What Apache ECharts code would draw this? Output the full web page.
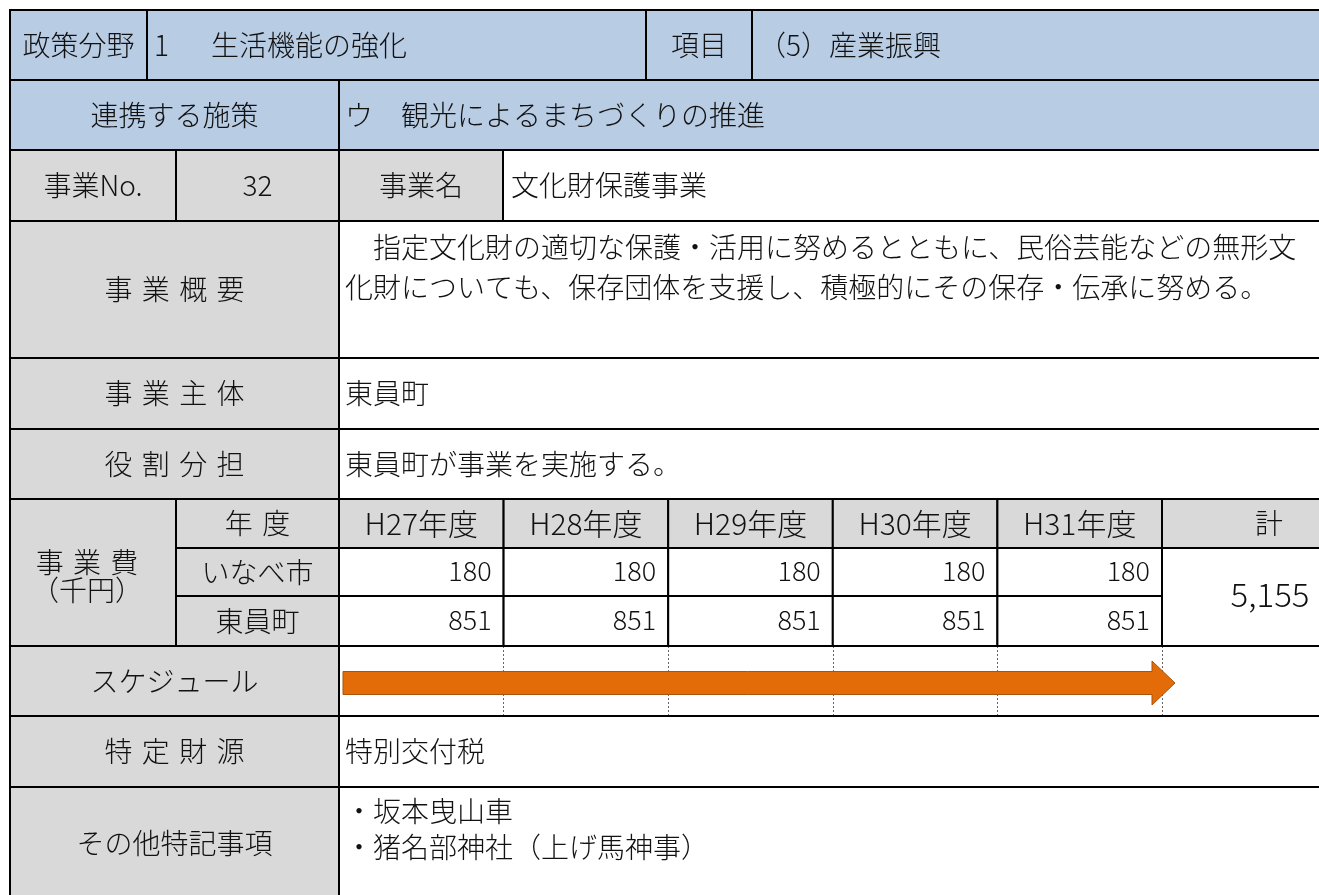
<!DOCTYPE html>
<html><head><meta charset="utf-8">
<script src="https://cdn.jsdelivr.net/npm/echarts@6/dist/echarts.min.js"></script>
<style>html,body{margin:0;padding:0;background:#fff}#c{width:1319px;height:895px}</style>
</head><body><div id="c"></div>
<script>
// ---- content ----
const policyFieldLabel = '政策分野';
const policyFieldValue = '1\u3000\u2002生活機能の強化';
const itemLabel = '項目';
const itemValue = '（5）産業振興';
const linkedLabel = '連携する施策';
const linkedValue = 'ウ\u3000観光によるまちづくりの推進';
const projNoLabel = '事業No.';
const projNo = '32';
const projNameLabel = '事業名';
const projName = '文化財保護事業';
const summaryLabel = '事\u2004業\u2004概\u2004要';
const summaryLines = ['\u3000指定文化財の適切な保護・活用に努めるとともに、民俗芸能などの無形文', '化財についても、保存団体を支援し、積極的にその保存・伝承に努める。'];
const ownerLabel = '事\u2004業\u2004主\u2004体';
const ownerValue = '東員町';
const roleLabel = '役\u2004割\u2004分\u2004担';
const roleValue = '東員町が事業を実施する。';
const costLabel = '事\u2004業\u2004費\n（千円）';
const yearLabel = '年\u2004度';
const years = ['H27年度', 'H28年度', 'H29年度', 'H30年度', 'H31年度'];
const totalLabel = '計';
const payers = ['いなべ市', '東員町'];
const inabeCost = [180, 180, 180, 180, 180];
const toinCost = [851, 851, 851, 851, 851];
const totalCost = 5155;
const scheduleLabel = 'スケジュール';
const scheduleSpan = [[0, 4]]; // start / end year index
const fundLabel = '特\u2004定\u2004財\u2004源';
const fundValue = '特別交付税';
const notesLabel = 'その他特記事項';
const notesLines = ['・坂本曳山車', '・猪名部神社（上げ馬神事）'];

// ---- layout ----
const L = 10, C1 = 176, C2 = 339, CEND = 1162, RIGHT = 1380, CA = 147, CI1 = 646, CI2 = 752, CN = 503;
const yearW = (CEND - C2) / years.length;
const yc = i => C2 + i * yearW;
const R = [10, 80, 150, 221, 358, 429, 499, 548, 596, 646, 716, 787, 900];
const BLUE = '#B8CCE4', GRAY = '#D9D9D9', WHITE = '#FFFFFF';
const JP = '"Noto Sans CJK JP", sans-serif';

const els = [];
function cell(x0, y0, x1, y1, fill) {
  els.push({type: 'rect', z: 1, shape: {x: x0, y: y0, width: x1 - x0, height: y1 - y0},
    style: {fill: fill, stroke: '#000', lineWidth: 2}});
}
function txt(x, y, text, o) {
  o = o || {};
  els.push({type: 'text', z: 5, x: x, y: y, style: {text: text, fill: '#111',
    fontSize: o.size || 28, fontFamily: JP, fontWeight: 300,
    align: o.align || 'center', verticalAlign: o.va || 'middle', lineHeight: o.lh || 30}});
}
const mid = (a, b) => (a + b) / 2;

// row 1
cell(L, R[0], CA, R[1], BLUE); txt(mid(L, CA), mid(R[0], R[1]), policyFieldLabel);
cell(CA, R[0], CI1, R[1], BLUE); txt(CA + 7, mid(R[0], R[1]), policyFieldValue, {align: 'left'});
cell(CI1, R[0], CI2, R[1], BLUE); txt(mid(CI1, CI2), mid(R[0], R[1]), itemLabel);
cell(CI2, R[0], RIGHT, R[1], BLUE); txt(CI2 + 6, mid(R[0], R[1]), itemValue, {align: 'left'});
// row 2
cell(L, R[1], C2, R[2], BLUE); txt(mid(L, C2), mid(R[1], R[2]), linkedLabel);
cell(C2, R[1], RIGHT, R[2], BLUE); txt(C2 + 6, mid(R[1], R[2]), linkedValue, {align: 'left'});
// row 3
cell(L, R[2], C1, R[3], GRAY); txt(mid(L, C1), mid(R[2], R[3]), projNoLabel);
cell(C1, R[2], C2, R[3], GRAY); txt(mid(C1, C2), mid(R[2], R[3]), projNo, {size: 28});
cell(C2, R[2], CN, R[3], GRAY); txt(mid(C2, CN), mid(R[2], R[3]), projNameLabel);
cell(CN, R[2], RIGHT, R[3], WHITE); txt(CN + 8, mid(R[2], R[3]), projName, {align: 'left'});
// row 4
cell(L, R[3], C2, R[4], GRAY); txt(mid(L, C2), mid(R[3], R[4]), summaryLabel);
cell(C2, R[3], RIGHT, R[4], WHITE);
txt(C2 + 6, R[3] + 6, summaryLines.join('\n'), {align: 'left', va: 'top', lh: 40});
// row 5,6
cell(L, R[4], C2, R[5], GRAY); txt(mid(L, C2), mid(R[4], R[5]), ownerLabel);
cell(C2, R[4], RIGHT, R[5], WHITE); txt(C2 + 6, mid(R[4], R[5]), ownerValue, {align: 'left'});
cell(L, R[5], C2, R[6], GRAY); txt(mid(L, C2), mid(R[5], R[6]), roleLabel);
cell(C2, R[5], RIGHT, R[6], WHITE); txt(C2 + 6, mid(R[5], R[6]), roleValue, {align: 'left'});
// cost block
cell(L, R[6], C1, R[9], GRAY); txt(mid(L, C1) - 6, mid(R[6], R[9]) + 4, costLabel, {lh: 28});
cell(C1, R[6], C2, R[7], GRAY); txt(mid(C1, C2), mid(R[6], R[7]), yearLabel);
years.forEach((y, i) => { cell(yc(i), R[6], yc(i + 1), R[7], GRAY); txt(mid(yc(i), yc(i + 1)), mid(R[6], R[7]), y, {size: 30}); });
cell(CEND, R[6], RIGHT, R[7], GRAY); txt(1269, mid(R[6], R[7]), totalLabel);
[inabeCost, toinCost].forEach((arr, r) => {
  cell(C1, R[7 + r], C2, R[8 + r], GRAY); txt(mid(C1, C2), mid(R[7 + r], R[8 + r]), payers[r]);
  arr.forEach((v, i) => { cell(yc(i), R[7 + r], yc(i + 1), R[8 + r], WHITE);
    txt(yc(i + 1) - 12, mid(R[7 + r], R[8 + r]) - 1, String(v), {size: 27, align: 'right'}); });
});
cell(CEND, R[7], RIGHT, R[9], WHITE); txt(1270, mid(R[7], R[9]) - 3, totalCost.toLocaleString('en-US'), {size: 33});
// schedule
cell(L, R[9], C2, R[10], GRAY); txt(mid(L, C2), mid(R[9], R[10]), scheduleLabel);
cell(C2, R[9], RIGHT, R[10], null);
// fund, notes
cell(L, R[10], C2, R[11], GRAY); txt(mid(L, C2), mid(R[10], R[11]), fundLabel);
cell(C2, R[10], RIGHT, R[11], WHITE); txt(C2 + 6, mid(R[10], R[11]), fundValue, {align: 'left'});
cell(L, R[11], C2, R[12], GRAY); txt(mid(L, C2), mid(R[11], 900), notesLabel);
cell(C2, R[11], RIGHT, R[12], WHITE);
txt(C2 + 6, R[11] + 6, notesLines.join('\n'), {align: 'left', va: 'top', lh: 36});

const chart = echarts.init(document.getElementById('c'), null, {renderer: 'canvas'});
chart.setOption({
  animation: false,
  backgroundColor: '#fff',
  graphic: {elements: els},
  grid: {left: C2, top: R[9], width: CEND - C2, height: R[10] - R[9], containLabel: false},
  xAxis: {type: 'category', data: years, boundaryGap: true,
    axisLine: {show: false}, axisTick: {show: false}, axisLabel: {show: false},
    splitLine: {show: true, lineStyle: {color: '#666', width: 1, type: [2, 2]}}},
  yAxis: {type: 'value', min: 0, max: 1, show: false},
  series: [{
    type: 'custom', z: 10,
    data: scheduleSpan,
    encode: {x: 0, y: 1},
    renderItem: function (params, api) {
      const band = api.size([1, 0])[0];
      const x0 = api.coord([api.value(0), 0.5])[0] - band / 2 + 4;
      const xe = api.coord([api.value(1), 0.5])[0] + band / 2;
      const cy = api.coord([0, 0.5])[1] + 2;
      const hb = xe - 10, tip = xe + 13, bh = 11.5, hh = 22;
      return {type: 'polygon', shape: {points: [[x0, cy - bh], [hb, cy - bh], [hb, cy - hh], [tip, cy], [hb, cy + hh], [hb, cy + bh], [x0, cy + bh]]},
        style: {fill: '#E36C09', stroke: '#A9530C', lineWidth: 1}};
    }
  }]
});
</script></body></html>
